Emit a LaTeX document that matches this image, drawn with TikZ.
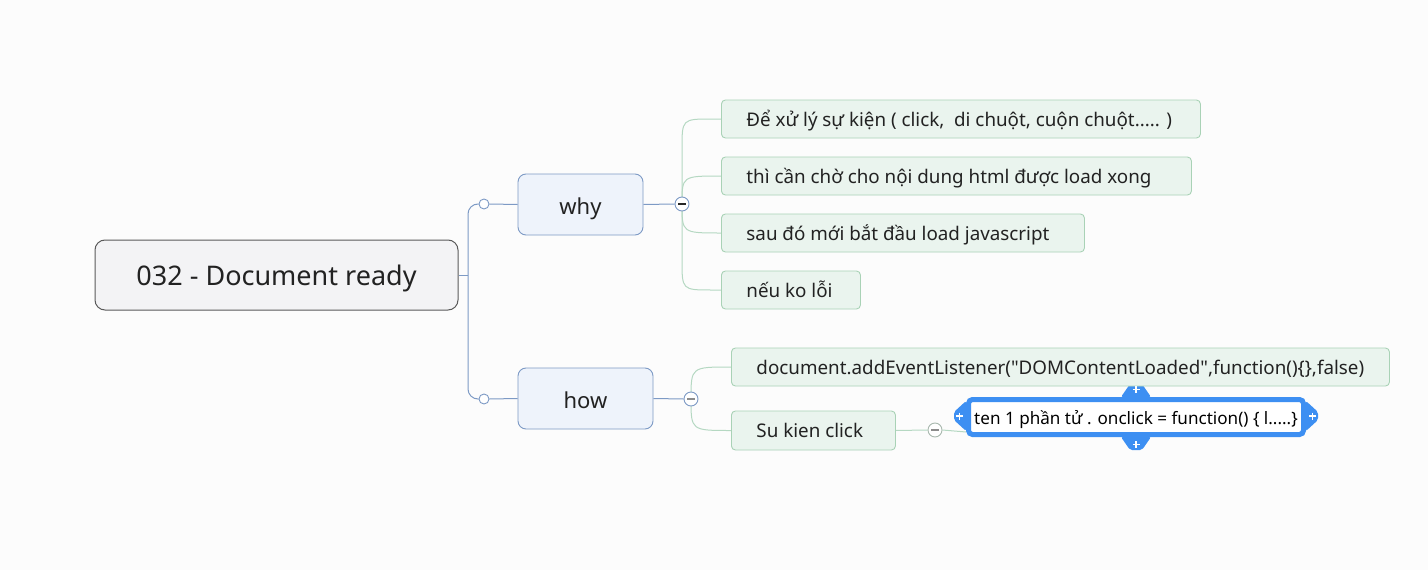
\documentclass[tikz,border=0pt]{standalone}
\usepackage{fontspec}
\setmainfont{Noto Sans}
\usetikzlibrary{calc}
\pgfdeclarelayer{back}\pgfdeclarelayer{lines}
\pgfsetlayers{back,lines,main}
\definecolor{bgc}{HTML}{FCFCFC}
\definecolor{rootfill}{HTML}{F3F3F5}
\definecolor{rootdraw}{HTML}{5A5A5A}
\definecolor{bfill}{HTML}{EEF3FB}
\definecolor{bdraw}{HTML}{7D9AC5}
\definecolor{gfill}{HTML}{EAF4EE}
\definecolor{gdraw}{HTML}{A9D2B6}
\definecolor{gline}{HTML}{B5D8C2}
\definecolor{selblue}{HTML}{3D8FF2}
\definecolor{txt}{HTML}{222222}
\definecolor{smdraw}{HTML}{A8B8AE}
\begin{document}
\begin{tikzpicture}[x=1pt,y=-1pt,
  rootbox/.style={draw=rootdraw, fill=rootfill, line width=1pt, rounded corners=10pt, minimum width=363pt, minimum height=70pt, inner sep=0pt, text height=26pt, text depth=6pt, font=\fontsize{27}{31}\selectfont, text=txt},
  bluebox/.style={draw=bdraw, fill=bfill, line width=0.9pt, rounded corners=8pt, minimum height=61pt, inner sep=0pt, text height=24pt, text depth=5pt, font=\fontsize{22}{26}\selectfont, text=txt},
  greenbox/.style={draw=gdraw, fill=gfill, line width=0.9pt, rounded corners=4pt, minimum height=38pt, inner sep=0pt, anchor=west, text height=18pt, text depth=4pt, font=\fontsize{18.8}{22}\selectfont, text=txt},
  knob/.style={circle, draw=bdraw, fill=white, line width=0.9pt, minimum size=10pt, inner sep=0pt},
  toggle/.style={circle, draw=bdraw, fill=white, line width=0.9pt, minimum size=14pt, inner sep=0pt},
  selbox/.style={draw=selblue, fill=white, line width=5pt, rounded corners=4pt, minimum width=335pt, minimum height=35pt, inner sep=0pt, text height=18pt, text depth=4pt, font=\fontsize{17.1}{20}\selectfont, text=black},
  tabshape/.style={fill=selblue, rounded corners=2pt},
  plusmark/.style={draw=white, line width=1.8pt},
  bline/.style={draw=bdraw, line width=1pt},
  gconn/.style={draw=gline, line width=1pt},
  minus/.style={line width=1.3pt},
]
\begin{pgfonlayer}{back}
\fill[bgc] (0,0) rectangle (1428,570);
\end{pgfonlayer}
\useasboundingbox (0,0) rectangle (1428,570);

% nodes
\node[rootbox] (root) at (276.5,275) {032 - Document ready};
\node[bluebox, minimum width=125pt] (why) at (580.5,204.5) {why};
\node[bluebox, minimum width=135pt] (how) at (585.5,398.5) {how};
\node[knob] (k1) at (484,204) {};
\node[knob] (k2) at (484,399) {};
\node[toggle] (wm) at (682,204) {};
\node[toggle] (hm) at (691,399) {};
\node[toggle, draw=smdraw] (sm) at (935,430) {};

\node[greenbox] (g1) at (721,119) {\makebox[479pt][l]{\hspace{25pt}Để xử lý sự kiện ( click,\ \ di chuột, cuộn chuột..... )}};
\node[greenbox] (g2) at (721,176) {\makebox[470pt][l]{\hspace{25pt}thì cần chờ cho nội dung html được load xong}};
\node[greenbox] (g3) at (721,233) {\makebox[363pt][l]{\hspace{25pt}sau đó mới bắt đầu load javascript}};
\node[greenbox] (g4) at (721,290) {\makebox[139pt][l]{\hspace{25pt}nếu ko lỗi}};
\node[greenbox] (ha) at (731,367) {\makebox[658pt][l]{\hspace{25pt}document.addEventListener(\textquotedbl DOMContentLoaded\textquotedbl,function()\{\},false)}};
\node[greenbox, minimum height=39pt] (hb) at (731,430.5) {\makebox[164pt][l]{\hspace{25pt}Su kien click}};

\node[selbox] (sel) at (1136,417) {ten 1 phần tử . onclick = function() \{ l.....\}};

% minus marks
\draw[minus, color=black!85] ($(wm.center)+(-4,0)$) -- ($(wm.center)+(4,0)$);
\draw[minus, color=black!45] ($(hm.center)+(-4,0)$) -- ($(hm.center)+(4,0)$);
\draw[minus, color=black!45] ($(sm.center)+(-4,0)$) -- ($(sm.center)+(4,0)$);

% connectors
\begin{pgfonlayer}{lines}
\coordinate (jr) at (468,275);
\draw[bline] (root.east) -- (jr);
\draw[bline, rounded corners=10pt] (jr) |- (k1.west);
\draw[bline, rounded corners=10pt] (jr) |- (k2.west);
\draw[bline] (k1.east) -- (why.west);
\draw[bline] (k2.east) -- (how.west);
\draw[bline] (why.east) -- (wm.west);
\draw[bline] (how.east) -- (hm.west);

\draw[gconn] (wm.center) -- ($(wm.center |- g1.west)+(0,30)$) .. controls (wm.center |- g1.west) .. ($(wm.center |- g1.west)+(30,0)$) -- (g1.west);
\draw[gconn] (wm.center) .. controls (wm.center |- g2.west) .. (g2.west);
\draw[gconn] (wm.center) .. controls (wm.center |- g3.west) .. (g3.west);
\draw[gconn] (wm.center) -- ($(wm.center |- g4.west)+(0,-30)$) .. controls (wm.center |- g4.west) .. ($(wm.center |- g4.west)+(30,0)$) -- (g4.west);
\draw[gconn] (hm.center) .. controls (hm.center |- ha.west) .. (ha.west);
\draw[gconn] (hm.center) .. controls (hm.center |- hb.west) .. (hb.west);
\draw[gconn] (hb.east) -- (sm.west);
\draw[gconn] (sm.east) -- ($(sel.south west)+(0,-5)$);

% selection tabs
\fill[tabshape] ($(sel.west)+(0,-16)$) -- ($(sel.west)+(-12,-5)$) -- ($(sel.west)+(-12,3)$) -- ($(sel.west)+(0,14)$) -- cycle;
\fill[tabshape] ($(sel.east)+(0,-16)$) -- ($(sel.east)+(12,-5)$) -- ($(sel.east)+(12,3)$) -- ($(sel.east)+(0,14)$) -- cycle;
\fill[tabshape] ($(sel.north)+(-15,0)$) -- ($(sel.north)+(-6,-13)$) -- ($(sel.north)+(6,-13)$) -- ($(sel.north)+(15,0)$) -- cycle;
\fill[tabshape] ($(sel.south)+(-15,0)$) -- ($(sel.south)+(-6,13)$) -- ($(sel.south)+(6,13)$) -- ($(sel.south)+(15,0)$) -- cycle;
\end{pgfonlayer}
\draw[plusmark] ($(sel.west)+(-6.5,-4.5)$) -- ($(sel.west)+(-6.5,2.5)$) ($(sel.west)+(-10,-1)$) -- ($(sel.west)+(-3,-1)$);
\draw[plusmark] ($(sel.east)+(6.5,-4.5)$) -- ($(sel.east)+(6.5,2.5)$) ($(sel.east)+(10,-1)$) -- ($(sel.east)+(3,-1)$);
\draw[plusmark] ($(sel.north)+(0,-11)$) -- ($(sel.north)+(0,-4)$) ($(sel.north)+(-3.5,-7.5)$) -- ($(sel.north)+(3.5,-7.5)$);
\draw[plusmark] ($(sel.south)+(0,11)$) -- ($(sel.south)+(0,4)$) ($(sel.south)+(-3.5,7.5)$) -- ($(sel.south)+(3.5,7.5)$);
\end{tikzpicture}
\end{document}
